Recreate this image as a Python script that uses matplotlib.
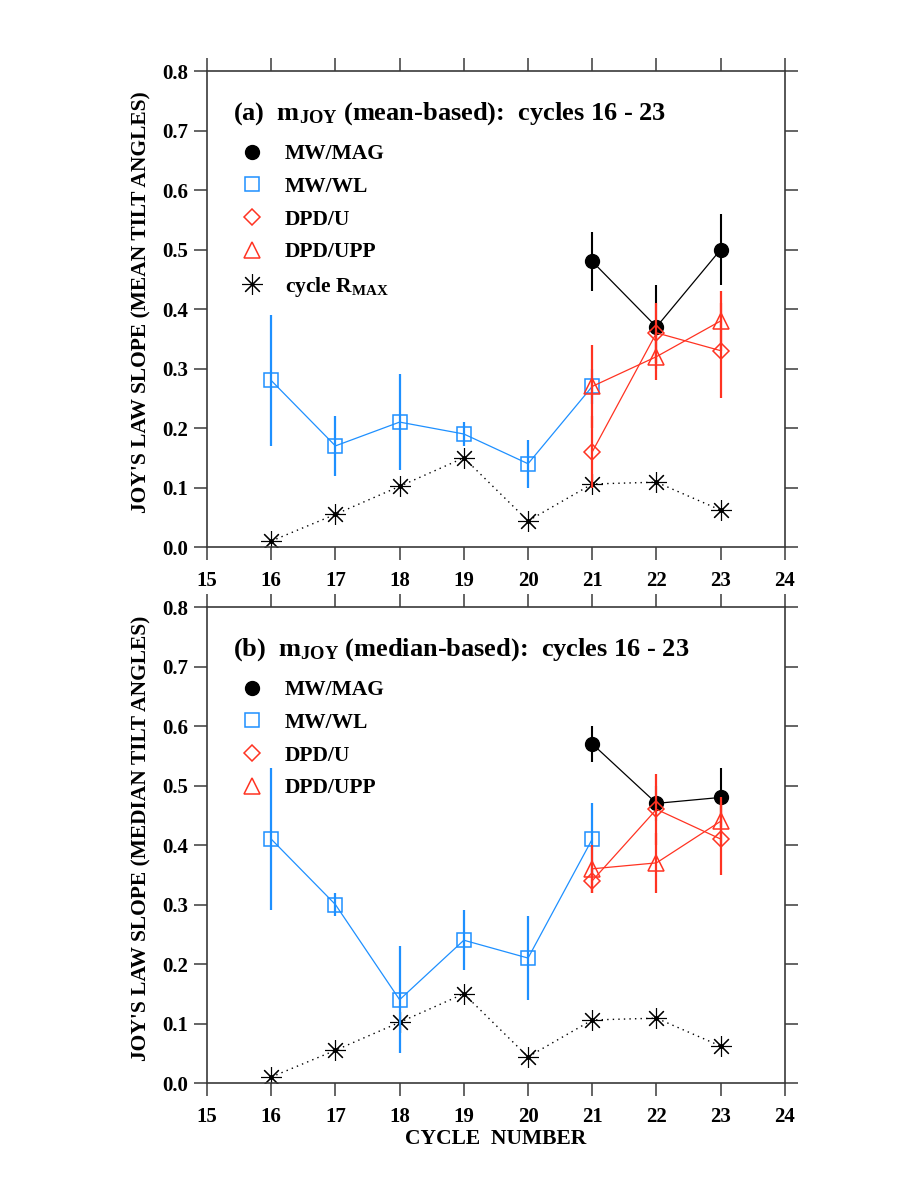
import matplotlib
matplotlib.use('Agg')
import matplotlib.pyplot as plt
from matplotlib.lines import Line2D
from matplotlib.ticker import MultipleLocator, FormatStrFormatter

# Fonts: bold Times-like serif everywhere, also inside mathtext subscripts
plt.rcParams['font.family'] = ['Liberation Serif', 'DejaVu Serif']
plt.rcParams['font.weight'] = 'bold'
plt.rcParams['mathtext.fontset'] = 'custom'
plt.rcParams['mathtext.rm'] = 'Liberation Serif:bold'
plt.rcParams['mathtext.it'] = 'Liberation Serif:bold'
plt.rcParams['mathtext.bf'] = 'Liberation Serif:bold'

# ---- data ----
rmax_cycles = [16, 17, 18, 19, 20, 21, 22, 23]
rmax_scaled = [0.010, 0.055, 0.102, 0.150, 0.044, 0.106, 0.109, 0.062]

wl_cycles = [16, 17, 18, 19, 20, 21]
dpd_cycles = [21, 22, 23]
mag_cycles = [21, 22, 23]

# (a) mean-based
mag_mean = [0.48, 0.37, 0.50]
mag_mean_err = [0.05, 0.07, 0.06]
wl_mean = [0.28, 0.17, 0.21, 0.19, 0.14, 0.27]
wl_mean_err = [0.11, 0.05, 0.08, 0.02, 0.04, 0.03]
dpdu_mean = [0.16, 0.36, 0.33]
dpdu_mean_err = [0.06, 0.05, 0.08]
dpdupp_mean = [0.27, 0.32, 0.38]
dpdupp_mean_err = [0.07, 0.04, 0.05]

# (b) median-based
mag_median = [0.57, 0.47, 0.48]
mag_median_err = [0.03, 0.03, 0.05]
wl_median = [0.41, 0.30, 0.14, 0.24, 0.21, 0.41]
wl_median_err = [0.12, 0.02, 0.09, 0.05, 0.07, 0.06]
dpdu_median = [0.34, 0.46, 0.41]
dpdu_median_err = [0.02, 0.06, 0.06]
dpdupp_median = [0.36, 0.37, 0.44]
dpdupp_median_err = [0.04, 0.05, 0.04]

x_ticks = list(range(15, 25))

BLUE = '#1E90FF'
RED = '#FF3322'
SPINE = '#3a3a3a'
STAR = (8, 2, 0)


def draw_panel(ax, mag, mag_err, wl, wl_err, dpdu, dpdu_err, dpdupp, dpdupp_err,
               title, ylabel, show_rmax):
    # cycle R_MAX (scaled) - dotted line with asterisks
    ax.plot(rmax_cycles, rmax_scaled, color='black', ls=(0, (1, 3)), lw=1.0,
            marker=STAR, ms=15, mew=0.8, zorder=2)
    ax.plot(rmax_cycles, rmax_scaled, ls='none', marker='o', ms=2.5,
            color='black', zorder=2)

    # MW/WL
    ax.errorbar(wl_cycles, wl, yerr=wl_err, fmt='none', ecolor=BLUE,
                elinewidth=1.6, capsize=0, zorder=3)
    ax.plot(wl_cycles, wl, color=BLUE, lw=0.9, marker='s', ms=10,
            mfc='none', mec=BLUE, mew=1.1, zorder=3)

    # MW/MAG
    ax.errorbar(mag_cycles, mag, yerr=mag_err, fmt='none', ecolor='black',
                elinewidth=1.5, capsize=0, zorder=4)
    ax.plot(mag_cycles, mag, color='black', lw=0.9, marker='o', ms=10,
            mfc='black', mec='black', zorder=4)

    # DPD/U and DPD/UPP
    ax.errorbar(dpd_cycles, dpdu, yerr=dpdu_err, fmt='none', ecolor=RED,
                elinewidth=1.6, capsize=0, zorder=5)
    ax.errorbar(dpd_cycles, dpdupp, yerr=dpdupp_err, fmt='none', ecolor=RED,
                elinewidth=1.6, capsize=0, zorder=5)
    ax.plot(dpd_cycles, dpdu, color=RED, lw=0.9, marker='D', ms=8.5,
            mfc='none', mec=RED, mew=1.1, zorder=6)
    ax.plot(dpd_cycles, dpdupp, color=RED, lw=0.9, marker='^', ms=11.5,
            mfc='none', mec=RED, mew=1.1, zorder=6)

    # axes styling
    ax.set_xlim(15, 24)
    ax.set_ylim(0.0, 0.8)
    ax.set_xticks(x_ticks)
    ax.yaxis.set_major_locator(MultipleLocator(0.1))
    ax.yaxis.set_major_formatter(FormatStrFormatter('%.1f'))
    for sp in ax.spines.values():
        sp.set_color(SPINE)
        sp.set_linewidth(1.2)
    ax.tick_params(direction='out', top=True, right=True, length=9.5,
                   width=1.1, color=SPINE, labelsize=15)
    ax.tick_params(axis='x', pad=8)
    ax.tick_params(axis='y', pad=4)
    for lab in ax.get_xticklabels() + ax.get_yticklabels():
        lab.set_fontweight('bold')

    ax.set_ylabel(ylabel, fontsize=15.5, fontweight='bold')
    ax.yaxis.set_label_coords(-0.0964, 0.515)

    ax.text(0.0455, 0.897, title, transform=ax.transAxes, fontsize=19,
            fontweight='bold', ha='left', va='baseline')

    handles = [
        Line2D([], [], ls='none', marker='o', ms=10, color='black'),
        Line2D([], [], ls='none', marker='s', ms=10, mfc='none', mec=BLUE, mew=1.1),
        Line2D([], [], ls='none', marker='D', ms=8.5, mfc='none', mec=RED, mew=1.1),
        Line2D([], [], ls='none', marker='^', ms=11.5, mfc='none', mec=RED, mew=1.1),
    ]
    labels = ['MW/MAG', 'MW/WL', 'DPD/U', 'DPD/UPP']
    if show_rmax:
        handles.append(Line2D([], [], ls='none', marker=STAR, ms=15,
                              mew=0.8, color='black'))
        labels.append(r'cycle R$_{\rm MAX}$')
    leg = ax.legend(handles, labels, loc='upper left', bbox_to_anchor=(0.0586, 0.846),
                    frameon=False, fontsize=15.5, handlelength=1.0,
                    handletextpad=1.04, labelspacing=0.58, borderpad=0,
                    borderaxespad=0)
    for t in leg.get_texts():
        t.set_fontweight('bold')


fig = plt.figure(figsize=(9.19, 11.90), dpi=100)
ax1 = fig.add_axes([0.2252, 0.5403, 0.6289, 0.4000])
ax2 = fig.add_axes([0.2252, 0.0899, 0.6289, 0.4000])

draw_panel(ax1, mag_mean, mag_mean_err, wl_mean, wl_mean_err,
           dpdu_mean, dpdu_mean_err, dpdupp_mean, dpdupp_mean_err,
           r'(a)  m$_{\rm JOY}$ (mean-based):  cycles 16 - 23',
           "JOY'S LAW SLOPE (MEAN TILT ANGLES)", True)
draw_panel(ax2, mag_median, mag_median_err, wl_median, wl_median_err,
           dpdu_median, dpdu_median_err, dpdupp_median, dpdupp_median_err,
           r'(b)  m$_{\rm JOY}$ (median-based):  cycles 16 - 23',
           "JOY'S LAW SLOPE (MEDIAN TILT ANGLES)", False)

ax2.set_xlabel('CYCLE  NUMBER', fontsize=15.5, fontweight='bold')
ax2.xaxis.set_label_coords(0.5, -0.097)

fig.savefig('out.png', dpi=100)
